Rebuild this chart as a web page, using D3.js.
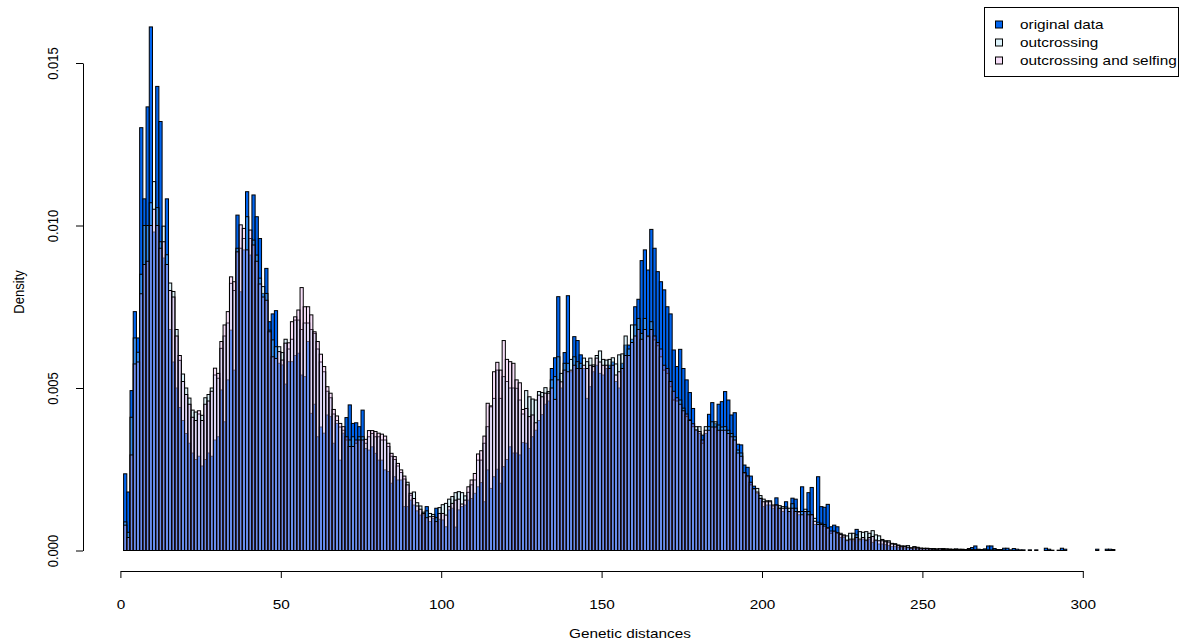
<!DOCTYPE html>
<html>
<head>
<meta charset="utf-8">
<script src="https://cdn.jsdelivr.net/npm/d3@7"></script>
<style>
  body { margin: 0; background: #fff; }
  svg { display: block; }
  text { font-family: "Liberation Sans", Arial, sans-serif; font-size: 13px; fill: #000; }
</style>
</head>
<body>
<svg id="chart" width="1181" height="644"></svg>
<script>
// Histogram breaks: unit-width bins starting at distance 1
const firstBreak = 1;
const binWidth = 1;

// Density per bin, original data
const original = [
  0.00236, 0.00180, 0.00492, 0.00735, 0.00654, 0.01301, 0.01082, 0.01365, 0.01611, 0.00980,
  0.01428, 0.01320, 0.00900, 0.01082, 0.00680, 0.00580, 0.00500, 0.00440, 0.00400, 0.00360,
  0.00330, 0.00300, 0.00280, 0.00290, 0.00260, 0.00280, 0.00300, 0.00290, 0.00340, 0.00350,
  0.00494, 0.00396, 0.00525, 0.00678, 0.00555, 0.01032, 0.00796, 0.00925, 0.01104, 0.00909,
  0.01094, 0.01027, 0.00960, 0.00791, 0.00868, 0.00704, 0.00728, 0.00738, 0.00576, 0.00571,
  0.00512, 0.00581, 0.00581, 0.00600, 0.00607, 0.00540, 0.00535, 0.00643, 0.00422, 0.00450,
  0.00350, 0.00380, 0.00361, 0.00417, 0.00412, 0.00330, 0.00391, 0.00278, 0.00361, 0.00409,
  0.00448, 0.00391, 0.00393, 0.00381, 0.00432, 0.00314, 0.00309, 0.00319, 0.00299, 0.00278,
  0.00278, 0.00248, 0.00243, 0.00207, 0.00227, 0.00217, 0.00217, 0.00135, 0.00135, 0.00155,
  0.00140, 0.00122, 0.00109, 0.00110, 0.00135, 0.00089, 0.00099, 0.00130, 0.00096, 0.00094,
  0.00073, 0.00125, 0.00130, 0.00072, 0.00125, 0.00135, 0.00140, 0.00155, 0.00160, 0.00176,
  0.00196, 0.00209, 0.00150, 0.00248, 0.00191, 0.00227, 0.00250, 0.00207, 0.00258, 0.00280,
  0.00319, 0.00300, 0.00300, 0.00294, 0.00332, 0.00330, 0.00314, 0.00350, 0.00370, 0.00400,
  0.00418, 0.00450, 0.00460, 0.00560, 0.00593, 0.00781, 0.00500, 0.00609, 0.00784, 0.00550,
  0.00658, 0.00646, 0.00602, 0.00560, 0.00468, 0.00504, 0.00550, 0.00570, 0.00545, 0.00540,
  0.00560, 0.00570, 0.00580, 0.00520, 0.00500, 0.00576, 0.00632, 0.00632, 0.00650, 0.00750,
  0.00773, 0.00892, 0.00925, 0.00863, 0.00988, 0.00930, 0.00858, 0.00827, 0.00802, 0.00750,
  0.00728, 0.00617, 0.00566, 0.00619, 0.00560, 0.00525, 0.00486, 0.00437, 0.00370, 0.00360,
  0.00355, 0.00360, 0.00419, 0.00455, 0.00390, 0.00450, 0.00458, 0.00489, 0.00463, 0.00417,
  0.00424, 0.00327, 0.00325, 0.00263, 0.00256, 0.00229, 0.00198, 0.00176, 0.00161, 0.00135,
  0.00140, 0.00140, 0.00130, 0.00162, 0.00130, 0.00120, 0.00150, 0.00120, 0.00161, 0.00158,
  0.00110, 0.00196, 0.00120, 0.00178, 0.00194, 0.00080, 0.00227, 0.00135, 0.00133, 0.00142,
  0.00073, 0.00078, 0.00073, 0.00040, 0.00040, 0.00030, 0.00032, 0.00030, 0.00065, 0.00030,
  0.00035, 0.00030, 0.00035, 0.00025, 0.00030, 0.00020, 0.00020, 0.00018, 0.00015, 0.00012,
  0.00012, 0.00010, 0.00010, 0.00008, 0.00008, 0.00006, 0.00006, 0.00005, 0.00004, 0.00004,
  0.00004, 0.00004, 0.00005, 0.00003, 0.00004, 0.00006, 0.00003, 0.00004, 0.00003, 0.00005,
  0.00003, 0.00004, 0.00003, 0.00006, 0.00009, 0.00014, 0.00004, 0.00003, 0.00005, 0.00014,
  0.00014, 0.00006, 0.00003, 0.00003, 0.00007, 0.00007, 0.00002, 0.00006, 0.00004, 0.00002,
  0.00002, 0, 0.00002, 0, 0.00002, 0, 0, 0.00007, 0.00004, 0.00001,
  0, 0.00001, 0.00007, 0.00004, 0, 0, 0, 0, 0, 0,
  0, 0, 0, 0.00004, 0, 0, 0.00004, 0.00004, 0.00003, 0,
  0, 0, 0, 0, 0, 0, 0, 0
];

// Density per bin, simulated outcrossing
const outcrossing = [
  0.00088, 0.00056, 0.00410, 0.00654, 0.00610, 0.00850, 0.01000, 0.01000, 0.01070, 0.01135,
  0.01055, 0.00950, 0.00998, 0.00910, 0.00823, 0.00797, 0.00680, 0.00585, 0.00543, 0.00500,
  0.00469, 0.00432, 0.00426, 0.00420, 0.00416, 0.00470, 0.00480, 0.00500, 0.00540, 0.00530,
  0.00622, 0.00660, 0.00700, 0.00822, 0.00800, 0.00930, 0.00930, 0.00960, 0.01027, 0.00960,
  0.00955, 0.00909, 0.00838, 0.00812, 0.00791, 0.00678, 0.00648, 0.00627, 0.00627, 0.00609,
  0.00650, 0.00620, 0.00650, 0.00709, 0.00709, 0.00680, 0.00700, 0.00700, 0.00680, 0.00668,
  0.00620, 0.00580, 0.00550, 0.00490, 0.00470, 0.00420, 0.00400, 0.00380, 0.00370, 0.00340,
  0.00340, 0.00350, 0.00330, 0.00350, 0.00350, 0.00330, 0.00350, 0.00360, 0.00350, 0.00350,
  0.00340, 0.00340, 0.00320, 0.00290, 0.00280, 0.00260, 0.00240, 0.00220, 0.00210, 0.00170,
  0.00180, 0.00147, 0.00137, 0.00118, 0.00122, 0.00114, 0.00111, 0.00101, 0.00132, 0.00141,
  0.00145, 0.00158, 0.00166, 0.00178, 0.00181, 0.00178, 0.00168, 0.00179, 0.00202, 0.00217,
  0.00278, 0.00278, 0.00330, 0.00381, 0.00442, 0.00468, 0.00555, 0.00468, 0.00535, 0.00520,
  0.00500, 0.00500, 0.00499, 0.00463, 0.00420, 0.00492, 0.00473, 0.00466, 0.00463, 0.00489,
  0.00486, 0.00501, 0.00489, 0.00525, 0.00535, 0.00596, 0.00545, 0.00576, 0.00576, 0.00588,
  0.00596, 0.00581, 0.00576, 0.00592, 0.00581, 0.00592, 0.00571, 0.00600, 0.00614, 0.00588,
  0.00586, 0.00588, 0.00593, 0.00574, 0.00602, 0.00605, 0.00660, 0.00620, 0.00694, 0.00694,
  0.00714, 0.00668, 0.00714, 0.00658, 0.00704, 0.00648, 0.00630, 0.00596, 0.00555, 0.00545,
  0.00504, 0.00463, 0.00460, 0.00463, 0.00438, 0.00412, 0.00402, 0.00381, 0.00381, 0.00381,
  0.00330, 0.00381, 0.00381, 0.00396, 0.00396, 0.00386, 0.00380, 0.00381, 0.00370, 0.00360,
  0.00350, 0.00309, 0.00300, 0.00238, 0.00227, 0.00202, 0.00190, 0.00191, 0.00169, 0.00158,
  0.00153, 0.00153, 0.00137, 0.00140, 0.00138, 0.00135, 0.00134, 0.00130, 0.00144, 0.00130,
  0.00118, 0.00120, 0.00127, 0.00120, 0.00110, 0.00099, 0.00087, 0.00084, 0.00080, 0.00068,
  0.00053, 0.00058, 0.00053, 0.00053, 0.00048, 0.00045, 0.00053, 0.00053, 0.00048, 0.00058,
  0.00056, 0.00058, 0.00053, 0.00061, 0.00048, 0.00045, 0.00034, 0.00030, 0.00030, 0.00022,
  0.00021, 0.00017, 0.00014, 0.00014, 0.00015, 0.00008, 0.00012, 0.00010, 0.00007, 0.00007,
  0.00007, 0.00006, 0.00006, 0.00005, 0.00005, 0.00004, 0.00005, 0.00004, 0.00004, 0.00003,
  0.00004, 0.00003, 0.00003, 0.00003, 0.00003, 0.00002, 0.00002, 0.00002, 0.00002, 0.00002,
  0.00001, 0.00001, 0.00001, 0.00001, 0.00001, 0, 0, 0, 0, 0,
  0, 0, 0, 0, 0, 0, 0, 0, 0, 0,
  0, 0, 0, 0, 0, 0, 0, 0, 0, 0,
  0, 0, 0, 0, 0, 0, 0, 0, 0, 0,
  0, 0, 0, 0, 0, 0, 0, 0
];

// Density per bin, simulated outcrossing and selfing
const outcrossingSelfing = [
  0.00078, 0.00040, 0.00294, 0.00574, 0.00580, 0.00790, 0.00880, 0.00890, 0.01000, 0.01050,
  0.01000, 0.00930, 0.00950, 0.00880, 0.00800, 0.00780, 0.00660, 0.00600, 0.00520, 0.00480,
  0.00450, 0.00410, 0.00400, 0.00430, 0.00400, 0.00450, 0.00460, 0.00490, 0.00561, 0.00545,
  0.00643, 0.00694, 0.00735, 0.00842, 0.00827, 0.00919, 0.01002, 0.00991, 0.00925, 0.00986,
  0.00940, 0.00890, 0.00820, 0.00780, 0.00770, 0.00673, 0.00596, 0.00591, 0.00612, 0.00586,
  0.00638, 0.00639, 0.00704, 0.00719, 0.00740, 0.00809, 0.00750, 0.00750, 0.00725, 0.00673,
  0.00643, 0.00604, 0.00566, 0.00504, 0.00484, 0.00434, 0.00414, 0.00391, 0.00381, 0.00350,
  0.00320, 0.00320, 0.00340, 0.00340, 0.00340, 0.00342, 0.00369, 0.00369, 0.00366, 0.00361,
  0.00358, 0.00352, 0.00330, 0.00299, 0.00289, 0.00268, 0.00248, 0.00229, 0.00202, 0.00176,
  0.00160, 0.00137, 0.00127, 0.00114, 0.00101, 0.00104, 0.00105, 0.00089, 0.00114, 0.00114,
  0.00109, 0.00135, 0.00145, 0.00155, 0.00158, 0.00143, 0.00155, 0.00196, 0.00217, 0.00237,
  0.00297, 0.00307, 0.00352, 0.00453, 0.00445, 0.00550, 0.00579, 0.00555, 0.00646, 0.00588,
  0.00581, 0.00576, 0.00525, 0.00516, 0.00434, 0.00437, 0.00412, 0.00417, 0.00393, 0.00478,
  0.00473, 0.00484, 0.00484, 0.00500, 0.00465, 0.00525, 0.00519, 0.00555, 0.00550, 0.00555,
  0.00570, 0.00560, 0.00560, 0.00570, 0.00560, 0.00570, 0.00566, 0.00592, 0.00580, 0.00570,
  0.00570, 0.00560, 0.00570, 0.00540, 0.00550, 0.00560, 0.00600, 0.00600, 0.00640, 0.00660,
  0.00680, 0.00650, 0.00680, 0.00660, 0.00680, 0.00660, 0.00640, 0.00620, 0.00570, 0.00560,
  0.00520, 0.00490, 0.00470, 0.00450, 0.00430, 0.00420, 0.00400, 0.00390, 0.00371, 0.00366,
  0.00340, 0.00370, 0.00370, 0.00380, 0.00380, 0.00370, 0.00370, 0.00370, 0.00360, 0.00350,
  0.00340, 0.00300, 0.00290, 0.00240, 0.00230, 0.00210, 0.00190, 0.00180, 0.00160, 0.00150,
  0.00150, 0.00150, 0.00140, 0.00140, 0.00130, 0.00130, 0.00130, 0.00120, 0.00130, 0.00120,
  0.00120, 0.00110, 0.00120, 0.00110, 0.00110, 0.00090, 0.00080, 0.00080, 0.00075, 0.00070,
  0.00060, 0.00060, 0.00055, 0.00049, 0.00045, 0.00032, 0.00035, 0.00035, 0.00040, 0.00035,
  0.00040, 0.00032, 0.00040, 0.00043, 0.00032, 0.00030, 0.00030, 0.00027, 0.00026, 0.00020,
  0.00018, 0.00015, 0.00013, 0.00012, 0.00010, 0.00008, 0.00010, 0.00008, 0.00007, 0.00006,
  0.00006, 0.00005, 0.00004, 0.00004, 0.00005, 0.00003, 0.00004, 0.00003, 0.00003, 0.00003,
  0.00002, 0.00003, 0.00002, 0.00002, 0.00002, 0.00002, 0.00002, 0.00001, 0.00001, 0.00001,
  0.00001, 0.00001, 0, 0, 0, 0, 0, 0, 0, 0,
  0, 0, 0, 0, 0, 0, 0, 0, 0, 0,
  0, 0, 0, 0, 0, 0, 0, 0, 0, 0,
  0, 0, 0, 0, 0, 0, 0, 0, 0, 0,
  0, 0, 0, 0, 0, 0, 0, 0
];

const xTickValues = [0, 50, 100, 150, 200, 250, 300];
const yTickValues = [0, 0.005, 0.010, 0.015];
const yTickLabels = ["0.000", "0.005", "0.010", "0.015"];
const seriesNames = ["original data", "outcrossing", "outcrossing and selfing"];
const seriesFills = ["#0064f0", "rgba(150,215,240,0.33)", "rgba(230,150,235,0.30)"];
const xTitle = "Genetic distances";
const yTitle = "Density";

// R-like text: slightly widened glyphs
const textStretch = 1.18;

const svg = d3.select("#chart");
svg.append("rect").attr("width", 1181).attr("height", 644).attr("fill", "#fff");

const x = d3.scaleLinear().domain([0, 300]).range([120.4, 1082.8]);
const y = d3.scaleLinear().domain([0, 0.015]).range([550.5, 63]);

// Overlaid histograms, drawn in series order
[original, outcrossing, outcrossingSelfing].forEach((values, k) => {
  const bins = values.map((v, i) => ({
    x0: firstBreak + i * binWidth,
    x1: firstBreak + (i + 1) * binWidth,
    v
  }));
  svg.append("g")
    .attr("class", "hist-" + k)
    .selectAll("rect")
    .data(bins)
    .join("rect")
    .attr("x", d => x(d.x0))
    .attr("width", d => x(d.x1) - x(d.x0))
    .attr("y", d => y(d.v))
    .attr("height", d => y(0) - y(d.v))
    .attr("fill", seriesFills[k])
    .attr("stroke", "#000")
    .attr("stroke-width", 1);
});

// x axis
const xAxisY = 571;
const gx = svg.append("g")
  .attr("transform", `translate(0,${xAxisY})`)
  .call(d3.axisBottom(x).tickValues(xTickValues).tickFormat(d3.format("d")).tickSize(7).tickSizeOuter(0));
gx.select(".domain").attr("stroke", "#000");
gx.selectAll(".tick line").attr("stroke", "#000");
gx.selectAll(".tick text")
  .attr("x", null).attr("y", null).attr("dy", null)
  .attr("text-anchor", "middle")
  .attr("transform", `translate(0,${609 - xAxisY}) scale(${textStretch},1)`)
  .style("font-size", "13px")
  .style("font-family", "'Liberation Sans', Arial, sans-serif");

// y axis
const yAxisX = 83;
const gy = svg.append("g")
  .attr("transform", `translate(${yAxisX},0)`)
  .call(d3.axisLeft(y).tickValues(yTickValues).tickFormat((d, i) => yTickLabels[i]).tickSize(7).tickSizeOuter(0));
gy.select(".domain").attr("stroke", "#000");
gy.selectAll(".tick line").attr("stroke", "#000");
gy.selectAll(".tick text")
  .attr("x", null).attr("y", null).attr("dy", null)
  .attr("text-anchor", "middle")
  .attr("transform", `translate(${58 - yAxisX},0) scale(${textStretch},1) rotate(-90)`)
  .style("font-size", "13px")
  .style("font-family", "'Liberation Sans', Arial, sans-serif");

// axis titles
svg.append("text")
  .attr("text-anchor", "middle")
  .attr("transform", `translate(630,638) scale(${textStretch},1)`)
  .text(xTitle);
svg.append("text")
  .attr("text-anchor", "middle")
  .attr("transform", `translate(24,292) scale(${textStretch},1) rotate(-90)`)
  .text(yTitle);

// legend
const legend = svg.append("g");
legend.append("rect")
  .attr("x", 984.5).attr("y", 7.5).attr("width", 194).attr("height", 69)
  .attr("fill", "#fff").attr("stroke", "#000").attr("stroke-width", 1);
const rowY = d3.scalePoint().domain(seriesNames).range([24.5, 60.5]);
const rows = legend.selectAll("g.row").data(seriesNames).join("g").attr("class", "row");
rows.append("rect")
  .attr("x", 995.5).attr("y", d => rowY(d) - 3.5)
  .attr("width", 7).attr("height", 7)
  .attr("fill", (d, i) => seriesFills[i]).attr("stroke", "#000").attr("stroke-width", 1);
rows.append("text")
  .attr("transform", d => `translate(1020,${rowY(d) + 4.7}) scale(${textStretch},1)`)
  .text(d => d);
</script>
</body>
</html>
